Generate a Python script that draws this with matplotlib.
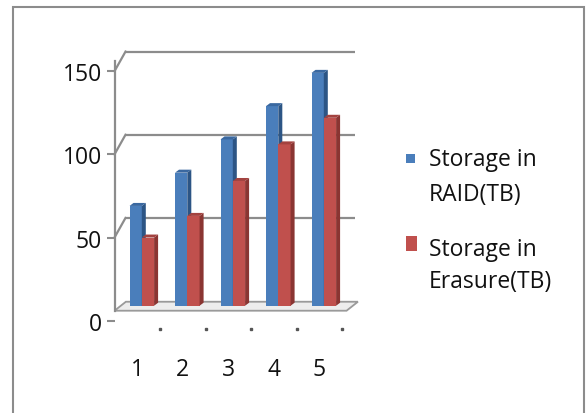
import matplotlib
matplotlib.use("Agg")
import matplotlib.pyplot as plt
from matplotlib.patches import Polygon, Rectangle

# data
categories = ['1', '2', '3', '4', '5']
raid_tb = [60, 80, 100, 120, 140]
erasure_tb = [41, 54, 75, 97, 113]
legend_labels = [['Storage in', 'RAID(TB)'], ['Storage in', 'Erasure(TB)']]
yticks = [0, 50, 100, 150]

plt.rcParams['font.family'] = ['Open Sans', 'DejaVu Sans']
fs = 16.5
txt_col = '#111111'

W, H = 586, 414
fig = plt.figure(figsize=(W / 100, H / 100), dpi=100)

# front plane of the fake 3d box (pixel layout of the original)
ax = fig.add_axes([114.5 / W, (H - 321.7) / H, (342 - 114.5) / W, (321.7 - 72.2) / H])
ax.set_xlim(0.5, 5.5)
ax.set_ylim(0, 150)

grid_col = '#8c8c8c'
# depth of back wall in data units
back_dx, back_dy = 0.242, 11.8

# back wall gridlines + left wall diagonals
for v in yticks[1:]:
    ax.plot([0.5 + back_dx, 5.79], [v + back_dy, v + back_dy], color=grid_col, lw=1.6,
            zorder=1, clip_on=False, solid_capstyle='butt')
    ax.plot([0.5, 0.5 + back_dx], [v, v + back_dy], color=grid_col, lw=1.6,
            zorder=1, clip_on=False)

# floor
fl_v, fl_dx, fl_dy = 6, 0.25, 5.4
floor = Polygon([(0.5, fl_v), (5.6, fl_v), (5.6 + fl_dx, fl_v + fl_dy), (0.5 + fl_dx, fl_v + fl_dy)],
                closed=True, facecolor='#ededed', edgecolor='#9a9a9a', lw=1.3, zorder=2, clip_on=False)
ax.add_patch(floor)

# bars with side and top faces
base = 9
bw = 0.27
bdx, bdy = 0.088, 1.8
styles = [('#4a7ebb', '#2c5585', '#3a68a0'), ('#c0504d', '#8a3532', '#a3423f')]

for i in range(len(categories)):
    xc = i + 1 + 0.10
    for k, vals in enumerate([raid_tb, erasure_tb]):
        front, side, top = styles[k]
        left = xc - bw + k * bw
        v = vals[i]
        z = 3 + i * 2 + k
        ax.bar(left, v, width=bw, bottom=base, align='edge', color=front, zorder=z, clip_on=False)
        ax.add_patch(Polygon([(left + bw, base), (left + bw + bdx, base + bdy),
                              (left + bw + bdx, base + v + bdy), (left + bw, base + v)],
                             closed=True, facecolor=side, edgecolor='none', zorder=z, clip_on=False))
        ax.add_patch(Polygon([(left, base + v), (left + bw, base + v),
                              (left + bw + bdx, base + v + bdy), (left + bdx, base + v + bdy)],
                             closed=True, facecolor=top, edgecolor='none', zorder=z, clip_on=False))

# axes styling
for s in ['top', 'right', 'bottom']:
    ax.spines[s].set_visible(False)
ax.spines['left'].set_color(grid_col)
ax.spines['left'].set_linewidth(1.6)
ax.spines['left'].set_bounds(6, 156)
ax.set_facecolor('none')

ax.set_yticks(yticks)
ax.set_yticklabels([str(t) for t in yticks], fontsize=fs, color=txt_col)
ax.tick_params(axis='y', length=6, width=1.5, color=grid_col, pad=3)

ax.set_xticks(range(1, 6))
ax.set_xticklabels(categories, fontsize=fs, color=txt_col)
ax.tick_params(axis='x', length=0, pad=26)

# small boundary dots under the floor
ax.plot([1.5, 2.5, 3.5, 4.5, 5.5], [-5] * 5, 's', ms=1.8, color='#555555', clip_on=False, zorder=2)

# legend drawn by hand
tr = fig.transFigure
fig.patches.append(Rectangle((406 / W, 1 - 164 / H), 9 / W, 9 / H, transform=tr,
                             facecolor='#4a7ebb', edgecolor='none'))
fig.patches.append(Rectangle((406 / W, 1 - 252 / H), 11 / W, 15 / H, transform=tr,
                             facecolor='#c0504d', edgecolor='none'))
for (l1, l2), (b1, b2) in zip(legend_labels, [(166, 201), (256, 288)]):
    fig.text(429 / W, 1 - b1 / H, l1, fontsize=fs, va='baseline', color=txt_col)
    fig.text(429 / W, 1 - b2 / H, l2, fontsize=fs, va='baseline', color=txt_col)

# chart area border
fig.patches.append(Rectangle((13 / W, -0.05), (584 - 13) / W, 1.05 - 8 / H, transform=tr,
                             facecolor='none', edgecolor='#8c8c8c', lw=1.5))

fig.savefig('out.png', dpi=100)
